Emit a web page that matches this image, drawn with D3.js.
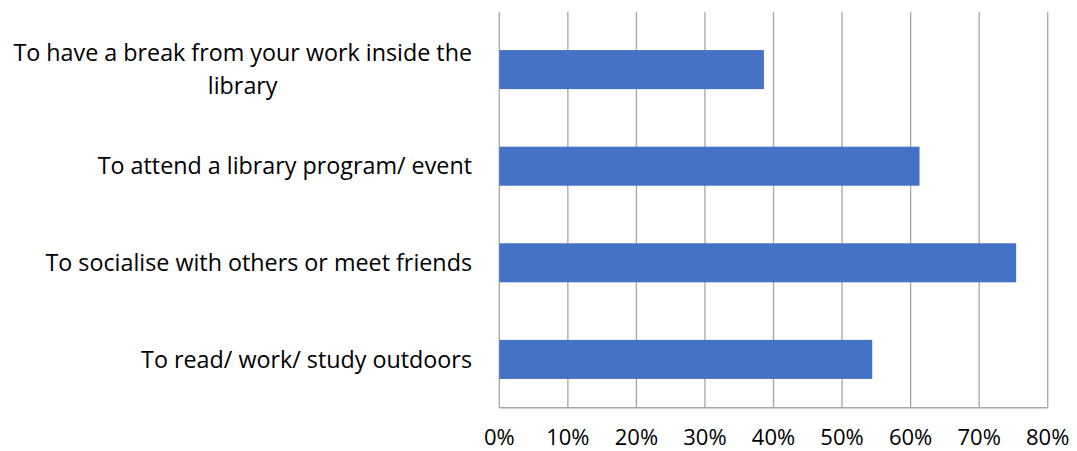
<!DOCTYPE html>
<html><head><meta charset="utf-8">
<script src="https://cdn.jsdelivr.net/npm/d3@7"></script>
<style>body{margin:0;background:#fff}svg{display:block}</style>
</head><body>
<svg id="chart" width="1077" height="451"></svg>
<script>
const categories = [
  ["To have a break from your work inside the", "library"],
  ["To attend a library program/ event"],
  ["To socialise with others or meet friends"],
  ["To read/ work/ study outdoors"]
];
const values = [0.386, 0.613, 0.754, 0.544];
const tickValues = [0, 0.1, 0.2, 0.3, 0.4, 0.5, 0.6, 0.7, 0.8];

const svg = d3.select("#chart");
const font = "'Open Sans', sans-serif";
const left = 499.3, right = 1047.7, gridTop = 12, bottom = 407.7, bandTop = 21.3;

const x = d3.scaleLinear().domain([0, 0.8]).range([left, right]);
const y = d3.scaleBand().domain(d3.range(categories.length)).range([bandTop, bottom]).paddingInner(0.596).paddingOuter(0.298);

// gridlines
svg.append("g").selectAll("line").data(tickValues).join("line")
  .attr("x1", d => x(d)).attr("x2", d => x(d))
  .attr("y1", gridTop).attr("y2", bottom)
  .attr("stroke", "#a6a6a6").attr("stroke-width", 1.3);

// bottom axis line
svg.append("line").attr("x1", left).attr("x2", right).attr("y1", bottom).attr("y2", bottom)
  .attr("stroke", "#a6a6a6").attr("stroke-width", 1.5);

// bars
svg.append("g").selectAll("rect").data(values).join("rect")
  .attr("x", x(0)).attr("y", (d, i) => y(i))
  .attr("width", d => x(d) - x(0)).attr("height", y.bandwidth())
  .attr("fill", "#4472C4");

// tick labels
svg.append("g").selectAll("text").data(tickValues).join("text")
  .attr("x", d => x(d)).attr("y", 445)
  .attr("text-anchor", "middle").attr("font-family", font).attr("font-size", 22).attr("fill", "#000")
  .text(d3.format(".0%"));

// category labels
const labelRight = 472;
categories.forEach((lines, i) => {
  const cy = y(i) + y.bandwidth() / 2;
  const g = svg.append("g");
  const lh = 33;
  const texts = lines.map((l, k) => g.append("text")
    .attr("y", cy + (k - (lines.length - 1) / 2) * lh)
    .attr("dy", "0.35em")
    .attr("font-family", font).attr("font-size", 23.3).attr("fill", "#000").text(l));
  const w = d3.max(texts, t => t.node().getComputedTextLength());
  texts.forEach(t => t.attr("text-anchor", "middle").attr("x", labelRight - w / 2));
});
</script>
</body></html>
